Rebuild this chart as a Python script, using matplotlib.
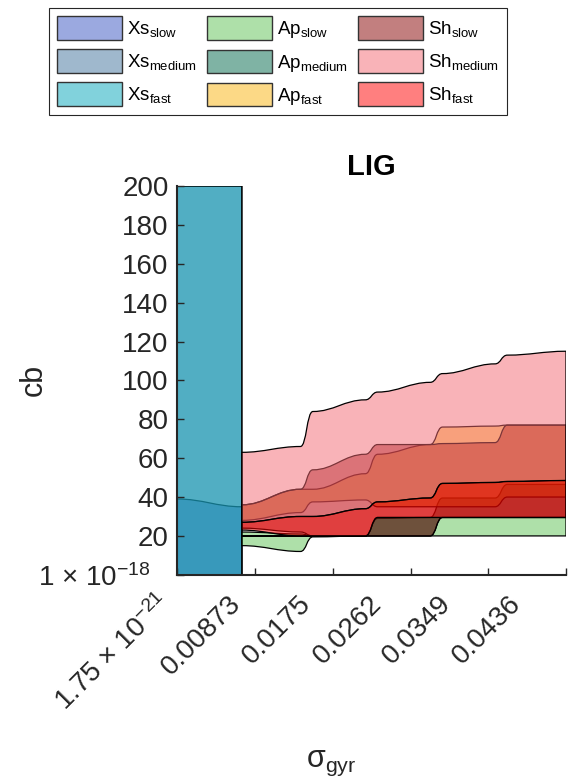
import numpy as np
import matplotlib
matplotlib.use("Agg")
import matplotlib.pyplot as plt
from matplotlib.path import Path
from matplotlib.patches import PathPatch, Patch
from matplotlib.transforms import ScaledTranslation

plt.rcParams['font.family'] = ['Liberation Sans', 'DejaVu Sans']
plt.rcParams['mathtext.default'] = 'regular'

### x grid (sigma_gyr) and axis ticks
x_max = 0.0436
n_nodes = 6
x_ticks = [1.75e-21, 0.00873, 0.0175, 0.0262, 0.0349, 0.0436]
x_tick_labels = [r'1.75 $\times$ 10$^{-21}$', '0.00873', '0.0175', '0.0262', '0.0349', '0.0436']
y_ticks = [1e-18, 20, 40, 60, 80, 100, 120, 140, 160, 180, 200]
y_tick_labels = [r'1 $\times$ 10$^{-18}$'] + [str(v) for v in y_ticks[1:]]

names = ['Xs_slow', 'Xs_medium', 'Xs_fast', 'Ap_slow', 'Ap_medium', 'Ap_fast',
         'Sh_slow', 'Sh_medium', 'Sh_fast']
colors = [(0.22, 0.33, 0.76), (0.25, 0.45, 0.61), (0.02, 0.65, 0.73),
          (0.37, 0.76, 0.33), (0.00, 0.41, 0.29), (0.98, 0.71, 0.06),
          (0.53, 0.00, 0.00), (0.96, 0.41, 0.45), (1.00, 0.00, 0.00)]

### Xs only on the first interval: value at start / value at end
xs_slow_hi = ([39], [35]);   xs_slow_lo = ([0], [0])
xs_med_hi = ([200], [200]);  xs_med_lo = ([0], [0])
xs_fast_hi = ([200], [200]); xs_fast_lo = ([0], [0])

### Ap / Sh bands on intervals 1..5 : (start-of-interval values, end-of-interval values)
ap_slow_hi = ([22, 20, 29, 29.5, 29.5], [21, 20, 29.5, 29.5, 29.5])
ap_slow_lo = ([15, 19.5, 20, 20, 20], [12, 20, 20, 20, 20])
ap_med_hi = ([20, 20, 29.5, 39.5, 46.5], [20, 20, 29.5, 39.5, 46.5])
ap_med_lo = ([20, 20, 20, 29.5, 29.5], [20, 20, 20, 29.5, 29.5])
ap_fast_hi = ([36, 44, 62, 76, 77], [44, 52, 67, 76.5, 77])
ap_fast_lo = ([28, 37.5, 35, 35, 40], [32, 38.5, 35, 35, 40])
sh_slow_hi = ([36, 54, 67, 67.5, 77], [44, 62, 67, 68, 77])
sh_slow_lo = ([24, 20, 20, 29.5, 29.5], [22, 20, 20, 29.5, 29.5])
sh_med_hi = ([63, 84, 94, 103.5, 113], [66, 90, 99, 108.5, 115])
sh_med_lo = ([27, 30, 37.5, 47, 48], [30, 34, 39.5, 47.5, 48.5])
sh_fast_hi = ([27, 30, 37.5, 47, 48], [30, 34, 39.5, 47.5, 48.5])
sh_fast_lo = ([23, 20, 29.5, 29.5, 29.5], [20, 20, 29.5, 29.5, 29.5])

# where the rotated x tick labels sit, relative to their tick (pixels)
xlabel_shift = [-10, -18, -26, -33, -41, -49]

dx = x_max / n_nodes


def edge_path(vals, x0, s=0.0007):
    a, b = vals
    n = len(a)
    verts = [(x0, a[0])]
    codes = [Path.MOVETO]
    for k in range(n):
        xs = x0 + k * dx
        xe = xs + dx
        left = xs + (s if k > 0 else 0)
        right = xe - (s if k < n - 1 else 0)
        L = right - left
        verts += [(left + 0.4 * L, a[k]), (right - 0.4 * L, b[k]), (right, b[k])]
        codes += [Path.CURVE4] * 3
        if k < n - 1:
            verts += [(xe, b[k]), (xe, a[k + 1]), (xe + s, a[k + 1])]
            codes += [Path.CURVE4] * 3
    return verts, codes


def band(ax, hi, lo, x0, color):
    v1, c1 = edge_path(hi, x0)
    v2, c2 = edge_path(lo, x0)
    v2 = v2[::-1]
    verts = v1 + v2 + [v1[0]]
    codes = c1 + [Path.LINETO] + [Path.CURVE4] * (len(v2) - 1) + [Path.CLOSEPOLY]
    p = PathPatch(Path(verts, codes), facecolor=(*color, 0.5), edgecolor='black', lw=0.9)
    ax.add_patch(p)


fig = plt.figure(figsize=(5.86, 7.84), dpi=100)
ax = fig.add_axes([177 / 586, 1 - 574.8 / 784, 389 / 586, 388.8 / 784])

bands = [(xs_slow_hi, xs_slow_lo, 0), (xs_med_hi, xs_med_lo, 0), (xs_fast_hi, xs_fast_lo, 0),
         (ap_slow_hi, ap_slow_lo, dx), (ap_med_hi, ap_med_lo, dx), (ap_fast_hi, ap_fast_lo, dx),
         (sh_slow_hi, sh_slow_lo, dx), (sh_med_hi, sh_med_lo, dx), (sh_fast_hi, sh_fast_lo, dx)]
for (hi, lo, x0), c in zip(bands, colors):
    band(ax, hi, lo, x0, c)

ax.set_xlim(0, x_max)
ax.set_ylim(0, 200)
ax.set_xticks(x_ticks)
ax.set_xticklabels([])
ax.set_yticks(y_ticks)
ax.set_yticklabels(y_tick_labels)
ax.tick_params(direction='in', length=5, width=1, labelsize=20, colors='#262626', pad=6)
for side in ['top', 'right']:
    ax.spines[side].set_visible(False)
for side in ['left', 'bottom']:
    ax.spines[side].set_linewidth(1.5)
    ax.spines[side].set_color('#262626')

for xt, lab, sh in zip(x_ticks, x_tick_labels, xlabel_shift):
    tr = ax.get_xaxis_transform() + ScaledTranslation(sh / 100, -25 / 100, fig.dpi_scale_trans)
    ax.text(xt, 0, lab, transform=tr, rotation=45, ha='right', va='center',
            rotation_mode='anchor', fontsize=20, color='#262626')

ax.set_title('LIG', fontsize=21, fontweight='bold', pad=8)
ax.set_ylabel('cb', fontsize=22, color='#262626')
ax.yaxis.set_label_coords(-0.33, 0.5)
ax.set_xlabel(r'$\sigma_{gyr}$', fontsize=22, color='#262626')
ax.xaxis.set_label_coords(0.396, -0.445)

labels = [r'Xs$_{slow}$', r'Xs$_{medium}$', r'Xs$_{fast}$',
          r'Ap$_{slow}$', r'Ap$_{medium}$', r'Ap$_{fast}$',
          r'Sh$_{slow}$', r'Sh$_{medium}$', r'Sh$_{fast}$']
handles = [Patch(facecolor=(*c, 0.5), edgecolor='#333333', lw=1) for c in colors]
leg = fig.legend(handles, labels, ncol=3, loc='upper center', bbox_to_anchor=(278 / 586, 1 - 8 / 784),
                 borderaxespad=0, fontsize=13.5, handlelength=3.45, handleheight=1.55,
                 handletextpad=0.27, labelspacing=0.5, columnspacing=0.55, borderpad=0.45,
                 fancybox=False, framealpha=1, edgecolor='#262626')
leg.get_frame().set_linewidth(0.8)

# the bottom y label sits a little left of the others in the reference
fig.canvas.draw()
lab0 = ax.get_yticklabels()[0]
lab0.set_transform(lab0.get_transform() + ScaledTranslation(-18 / 100, 0, fig.dpi_scale_trans))

fig.savefig('out.png', dpi=100)
